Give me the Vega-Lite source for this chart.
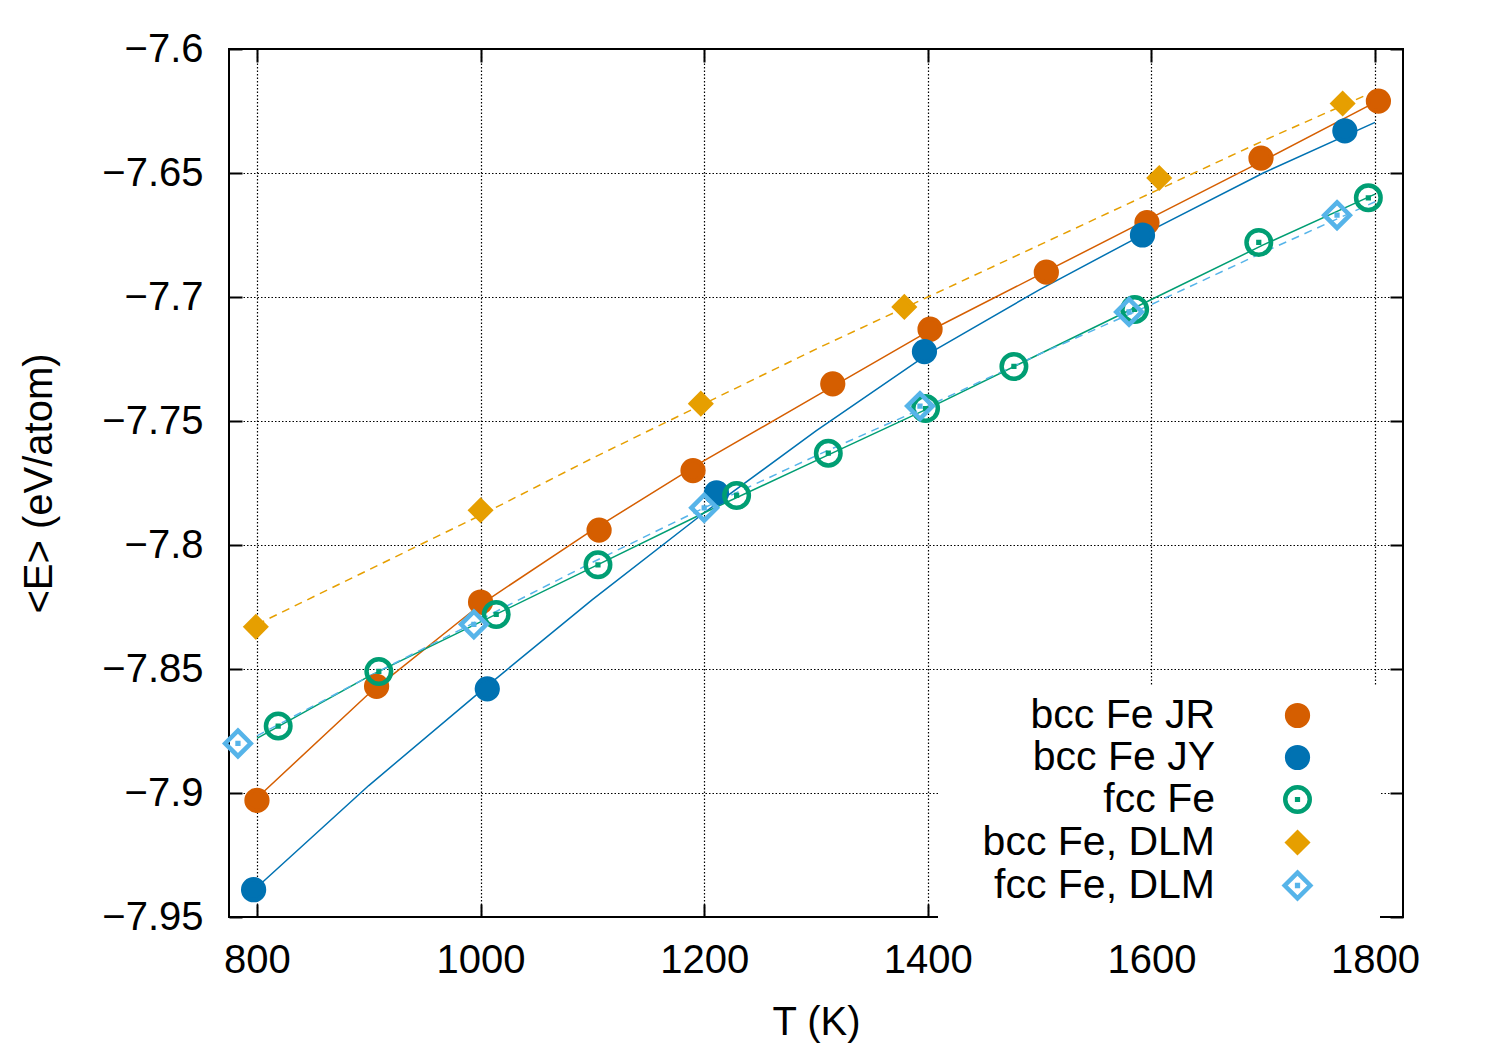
{
  "$schema": "https://vega.github.io/schema/vega-lite/v6.json",
  "width": 1174,
  "height": 868,
  "autosize": "none",
  "padding": {"left": 229, "top": 49, "right": 97, "bottom": 133},
  "background": "white",
  "config": {
    "font": "Liberation Sans",
    "view": {"stroke": "black", "strokeWidth": 2},
    "axis": {
      "domain": false,
      "labelFont": "Liberation Sans",
      "labelFontSize": 40,
      "labelColor": "black",
      "titleFont": "Liberation Sans",
      "titleFontSize": 40,
      "titleFontWeight": "normal",
      "titleColor": "black",
      "tickColor": "black",
      "tickWidth": 2,
      "tickSize": -13,
      "gridColor": "black",
      "gridWidth": 1.2,
      "gridDash": [1.5, 2],
      "gridOpacity": 1
    },
    "legend": {
      "orient": "none",
      "legendX": 709,
      "legendY": 636,
      "fillColor": "white",
      "padding": 10,
      "labelFont": "Liberation Sans",
      "labelFontSize": 41,
      "labelColor": "black",
      "labelAlign": "right",
      "labelOffset": -103,
      "symbolOffset": 329,
      "labelLimit": 400,
      "rowPadding": 0,
      "symbolStrokeWidth": 4.5,
      "symbolOpacity": 1,
      "titleOrient": "right",
      "titleFontSize": 40,
      "titlePadding": 51
    }
  },
  "datasets": {
    "points": [
      {"series": "bcc Fe JR", "T": 800, "E": -7.903},
      {"series": "bcc Fe JR", "T": 907, "E": -7.857},
      {"series": "bcc Fe JR", "T": 1000, "E": -7.823},
      {"series": "bcc Fe JR", "T": 1106, "E": -7.794},
      {"series": "bcc Fe JR", "T": 1190, "E": -7.770},
      {"series": "bcc Fe JR", "T": 1315, "E": -7.735},
      {"series": "bcc Fe JR", "T": 1402, "E": -7.713},
      {"series": "bcc Fe JR", "T": 1506, "E": -7.690},
      {"series": "bcc Fe JR", "T": 1596, "E": -7.670},
      {"series": "bcc Fe JR", "T": 1698, "E": -7.644},
      {"series": "bcc Fe JR", "T": 1803, "E": -7.621},
      {"series": "bcc Fe JY", "T": 797, "E": -7.939},
      {"series": "bcc Fe JY", "T": 1006, "E": -7.858},
      {"series": "bcc Fe JY", "T": 1211, "E": -7.779},
      {"series": "bcc Fe JY", "T": 1397, "E": -7.722},
      {"series": "bcc Fe JY", "T": 1592, "E": -7.675},
      {"series": "bcc Fe JY", "T": 1773, "E": -7.633},
      {"series": "fcc Fe", "T": 819, "E": -7.873},
      {"series": "fcc Fe", "T": 909, "E": -7.851},
      {"series": "fcc Fe", "T": 1014, "E": -7.828},
      {"series": "fcc Fe", "T": 1105, "E": -7.808},
      {"series": "fcc Fe", "T": 1229, "E": -7.780},
      {"series": "fcc Fe", "T": 1311, "E": -7.763},
      {"series": "fcc Fe", "T": 1398, "E": -7.745},
      {"series": "fcc Fe", "T": 1477, "E": -7.728},
      {"series": "fcc Fe", "T": 1585, "E": -7.705},
      {"series": "fcc Fe", "T": 1696, "E": -7.678},
      {"series": "fcc Fe", "T": 1794, "E": -7.660},
      {"series": "bcc Fe, DLM", "T": 799, "E": -7.833},
      {"series": "bcc Fe, DLM", "T": 1000, "E": -7.786},
      {"series": "bcc Fe, DLM", "T": 1197, "E": -7.743},
      {"series": "bcc Fe, DLM", "T": 1379, "E": -7.704},
      {"series": "bcc Fe, DLM", "T": 1607, "E": -7.652},
      {"series": "bcc Fe, DLM", "T": 1771, "E": -7.622},
      {"series": "fcc Fe, DLM", "T": 783, "E": -7.880},
      {"series": "fcc Fe, DLM", "T": 994, "E": -7.832},
      {"series": "fcc Fe, DLM", "T": 1200, "E": -7.785},
      {"series": "fcc Fe, DLM", "T": 1393, "E": -7.744},
      {"series": "fcc Fe, DLM", "T": 1580, "E": -7.706},
      {"series": "fcc Fe, DLM", "T": 1766, "E": -7.667}
    ],
    "fits": [
      {"series": "bcc Fe JR", "T": 800, "E": -7.902},
      {"series": "bcc Fe JR", "T": 900, "E": -7.860},
      {"series": "bcc Fe JR", "T": 1000, "E": -7.824},
      {"series": "bcc Fe JR", "T": 1100, "E": -7.794},
      {"series": "bcc Fe JR", "T": 1200, "E": -7.766},
      {"series": "bcc Fe JR", "T": 1300, "E": -7.740},
      {"series": "bcc Fe JR", "T": 1400, "E": -7.714},
      {"series": "bcc Fe JR", "T": 1500, "E": -7.691},
      {"series": "bcc Fe JR", "T": 1600, "E": -7.668},
      {"series": "bcc Fe JR", "T": 1700, "E": -7.645},
      {"series": "bcc Fe JR", "T": 1800, "E": -7.6215},
      {"series": "bcc Fe JY", "T": 800, "E": -7.938},
      {"series": "bcc Fe JY", "T": 900, "E": -7.897},
      {"series": "bcc Fe JY", "T": 1000, "E": -7.859},
      {"series": "bcc Fe JY", "T": 1100, "E": -7.822},
      {"series": "bcc Fe JY", "T": 1200, "E": -7.787},
      {"series": "bcc Fe JY", "T": 1300, "E": -7.754},
      {"series": "bcc Fe JY", "T": 1400, "E": -7.723},
      {"series": "bcc Fe JY", "T": 1500, "E": -7.697},
      {"series": "bcc Fe JY", "T": 1600, "E": -7.673},
      {"series": "bcc Fe JY", "T": 1700, "E": -7.650},
      {"series": "bcc Fe JY", "T": 1800, "E": -7.6296},
      {"series": "fcc Fe", "T": 800, "E": -7.878},
      {"series": "fcc Fe", "T": 900, "E": -7.853},
      {"series": "fcc Fe", "T": 1000, "E": -7.831},
      {"series": "fcc Fe", "T": 1100, "E": -7.809},
      {"series": "fcc Fe", "T": 1200, "E": -7.787},
      {"series": "fcc Fe", "T": 1300, "E": -7.766},
      {"series": "fcc Fe", "T": 1400, "E": -7.745},
      {"series": "fcc Fe", "T": 1500, "E": -7.723},
      {"series": "fcc Fe", "T": 1600, "E": -7.701},
      {"series": "fcc Fe", "T": 1700, "E": -7.679},
      {"series": "fcc Fe", "T": 1800, "E": -7.6585},
      {"series": "bcc Fe, DLM", "T": 800, "E": -7.832},
      {"series": "bcc Fe, DLM", "T": 900, "E": -7.810},
      {"series": "bcc Fe, DLM", "T": 1000, "E": -7.788},
      {"series": "bcc Fe, DLM", "T": 1100, "E": -7.765},
      {"series": "bcc Fe, DLM", "T": 1200, "E": -7.743},
      {"series": "bcc Fe, DLM", "T": 1300, "E": -7.721},
      {"series": "bcc Fe, DLM", "T": 1400, "E": -7.700},
      {"series": "bcc Fe, DLM", "T": 1500, "E": -7.679},
      {"series": "bcc Fe, DLM", "T": 1600, "E": -7.658},
      {"series": "bcc Fe, DLM", "T": 1700, "E": -7.637},
      {"series": "bcc Fe, DLM", "T": 1800, "E": -7.617},
      {"series": "fcc Fe, DLM", "T": 800, "E": -7.877},
      {"series": "fcc Fe, DLM", "T": 900, "E": -7.853},
      {"series": "fcc Fe, DLM", "T": 1000, "E": -7.830},
      {"series": "fcc Fe, DLM", "T": 1100, "E": -7.807},
      {"series": "fcc Fe, DLM", "T": 1200, "E": -7.785},
      {"series": "fcc Fe, DLM", "T": 1300, "E": -7.764},
      {"series": "fcc Fe, DLM", "T": 1400, "E": -7.744},
      {"series": "fcc Fe, DLM", "T": 1500, "E": -7.723},
      {"series": "fcc Fe, DLM", "T": 1600, "E": -7.703},
      {"series": "fcc Fe, DLM", "T": 1700, "E": -7.682},
      {"series": "fcc Fe, DLM", "T": 1800, "E": -7.6616}
    ]
  },
  "resolve": {"axis": {"x": "independent", "y": "independent"}},
  "layer": [
    {
      "data": {"name": "fits"},
      "mark": {"type": "point", "opacity": 0},
      "encoding": {
        "x": {"field": "T", "type": "quantitative", "scale": {"domain": [775, 1825], "nice": false, "zero": false}, "axis": {"orient": "top", "values": [800, 1000, 1200, 1400, 1600, 1800], "labels": false, "title": null, "grid": false}},
        "y": {"field": "E", "type": "quantitative", "scale": {"domain": [-7.95, -7.6], "nice": false, "zero": false}, "axis": {"orient": "right", "values": [-7.95, -7.9, -7.85, -7.8, -7.75, -7.7, -7.65, -7.6], "labels": false, "title": null, "grid": false}}
      }
    },
    {
      "data": {"name": "fits"},
      "transform": [{"filter": "datum.series === 'bcc Fe JR'"}],
      "mark": {"type": "line", "strokeWidth": 1.5, "stroke": "#D55E00"},
      "encoding": {
        "x": {"field": "T", "type": "quantitative", "axis": null},
        "y": {"field": "E", "type": "quantitative", "axis": null}
      }
    },
    {
      "data": {"name": "fits"},
      "transform": [{"filter": "datum.series === 'bcc Fe JY'"}],
      "mark": {"type": "line", "strokeWidth": 1.5, "stroke": "#0072B2"},
      "encoding": {
        "x": {"field": "T", "type": "quantitative", "axis": null},
        "y": {"field": "E", "type": "quantitative", "axis": null}
      }
    },
    {
      "data": {"name": "fits"},
      "transform": [{"filter": "datum.series === 'fcc Fe'"}],
      "mark": {"type": "line", "strokeWidth": 1.5, "stroke": "#009E73"},
      "encoding": {
        "x": {"field": "T", "type": "quantitative", "axis": null},
        "y": {"field": "E", "type": "quantitative", "axis": null}
      }
    },
    {
      "data": {"name": "fits"},
      "transform": [{"filter": "datum.series === 'bcc Fe, DLM'"}],
      "mark": {"type": "line", "strokeWidth": 1.5, "stroke": "#E69F00", "strokeDash": [8, 6]},
      "encoding": {
        "x": {"field": "T", "type": "quantitative", "axis": null},
        "y": {"field": "E", "type": "quantitative", "axis": null}
      }
    },
    {
      "data": {"name": "fits"},
      "transform": [{"filter": "datum.series === 'fcc Fe, DLM'"}],
      "mark": {"type": "line", "strokeWidth": 1.5, "stroke": "#56B4E9", "strokeDash": [8, 6]},
      "encoding": {
        "x": {"field": "T", "type": "quantitative", "axis": null},
        "y": {"field": "E", "type": "quantitative", "axis": null}
      }
    },
    {
      "data": {"name": "points"},
      "mark": {"type": "point", "opacity": 1, "strokeWidth": 4.5},
      "encoding": {
        "x": {
          "field": "T",
          "type": "quantitative",
          "title": "T (K)",
          "axis": {
            "values": [800, 1000, 1200, 1400, 1600, 1800],
            "format": "d",
            "grid": true,
            "labelPadding": 36,
            "titlePadding": 22
          }
        },
        "y": {
          "field": "E",
          "type": "quantitative",
          "title": "<E> (eV/atom)",
          "axis": {
            "values": [-7.95, -7.9, -7.85, -7.8, -7.75, -7.7, -7.65, -7.6],
            "format": ".3~r",
            "grid": true,
            "labelPadding": 39,
            "titlePadding": 42
          }
        },
        "shape": {
          "field": "series",
          "type": "nominal",
          "title": "  ",
          "scale": {
            "domain": ["bcc Fe JR", "bcc Fe JY", "fcc Fe", "bcc Fe, DLM", "fcc Fe, DLM"],
            "range": [
              "circle",
              "circle",
              "M -1 0 A 1 1 0 1 1 1 0 A 1 1 0 1 1 -1 0 Z M -0.03 -0.03 L 0.03 -0.03 L 0.03 0.03 L -0.03 0.03 Z",
              "diamond",
              "M 0 -1 L 1 0 L 0 1 L -1 0 Z M -0.03 -0.03 L 0.03 -0.03 L 0.03 0.03 L -0.03 0.03 Z"
            ]
          }
        },
        "stroke": {
          "field": "series",
          "type": "nominal",
          "title": "  ",
          "scale": {
            "domain": ["bcc Fe JR", "bcc Fe JY", "fcc Fe", "bcc Fe, DLM", "fcc Fe, DLM"],
            "range": ["#D55E00", "#0072B2", "#009E73", "#E69F00", "#56B4E9"]
          }
        },
        "fill": {
          "field": "series",
          "type": "nominal",
          "title": "  ",
          "scale": {
            "domain": ["bcc Fe JR", "bcc Fe JY", "fcc Fe", "bcc Fe, DLM", "fcc Fe, DLM"],
            "range": ["#D55E00", "#0072B2", "transparent", "#E69F00", "transparent"]
          }
        },
        "size": {
          "field": "series",
          "type": "nominal",
          "title": "  ",
          "scale": {
            "type": "ordinal",
            "domain": ["bcc Fe JR", "bcc Fe JY", "fcc Fe", "bcc Fe, DLM", "fcc Fe, DLM"],
            "range": [430, 430, 600, 390, 655]
          }
        }
      }
    }
  ]
}
